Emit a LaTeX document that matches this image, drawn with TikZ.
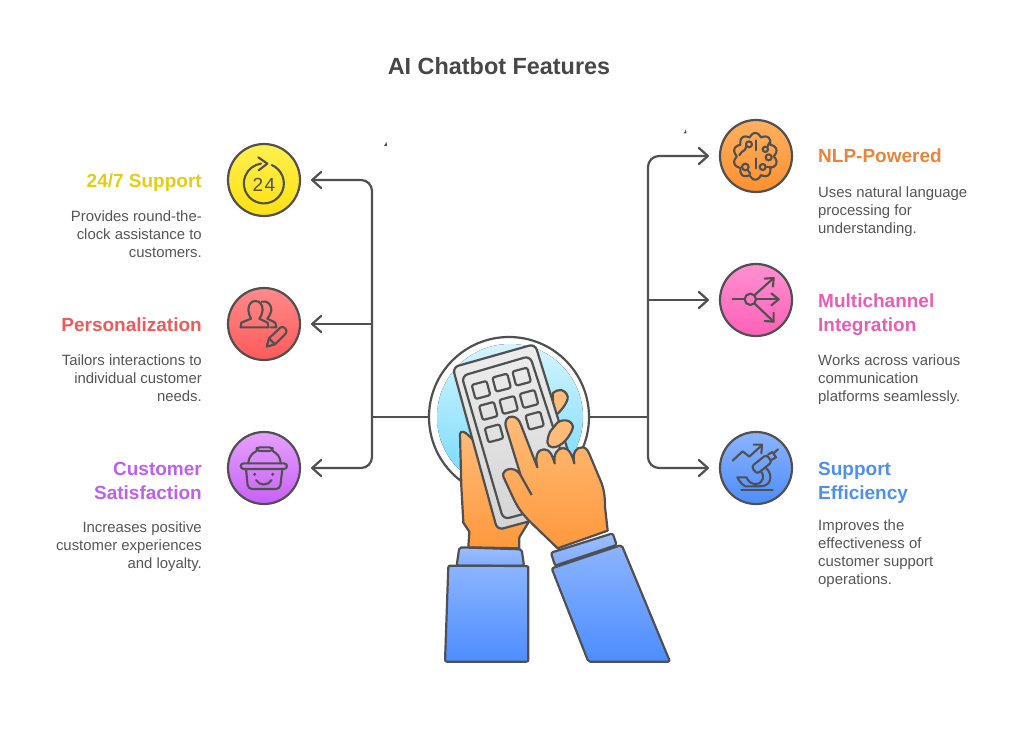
\documentclass[tikz,border=0pt]{standalone}
\usepackage{fontspec}
\setmainfont{Liberation Sans}
\usetikzlibrary{arrows.meta}

\definecolor{ink}{HTML}{505050}
\definecolor{txt}{HTML}{555555}
\definecolor{handtop}{HTML}{FFBC78}
\definecolor{handbot}{HTML}{FF983C}
\definecolor{cufftop}{HTML}{9CBEFF}
\definecolor{cuffbot}{HTML}{80ACFF}
\definecolor{sleevetop}{HTML}{8CB4FF}
\definecolor{sleevebot}{HTML}{4C8DFF}
\definecolor{HubTop}{HTML}{D4F5FF}
\definecolor{HubBot}{HTML}{70D8FF}
\definecolor{YelTop}{HTML}{FFF050}
\definecolor{YelBot}{HTML}{FFE010}
\definecolor{RedTop}{HTML}{FF8A8A}
\definecolor{RedBot}{HTML}{FF5A5A}
\definecolor{PurTop}{HTML}{E6A0FF}
\definecolor{PurBot}{HTML}{C860F8}
\definecolor{OraTop}{HTML}{FFB060}
\definecolor{OraBot}{HTML}{FF9030}
\definecolor{PinTop}{HTML}{FF90D0}
\definecolor{PinBot}{HTML}{FF60B8}
\definecolor{YelTxt}{HTML}{E3CE12}
\definecolor{RedTxt}{HTML}{EF5A5A}
\definecolor{PurTxt}{HTML}{BF5FEF}
\definecolor{OraTxt}{HTML}{E8853A}
\definecolor{PinTxt}{HTML}{E85DB5}
\definecolor{BluTxt}{HTML}{4F8FEF}

\tikzset{
	ball/.style={circle,draw=ink,line width=2.2pt,minimum size=72pt,inner sep=0pt,outer sep=0pt},
	link/.style={draw=ink,line width=2.2pt,rounded corners=11pt,shorten >=11pt,-{Straight Barb[length=9pt,width=16pt,round]}},
	stem/.style={draw=ink,line width=2.2pt},
	icon/.style={draw=ink,line width=2.1pt,line cap=round,line join=round},
	hand/.style={draw=ink,line width=2.2pt,line join=round},
	head/.style={font=\fontsize{19}{24}\selectfont\bfseries,inner sep=0pt},
	headl/.style={head,anchor=east,align=right},
	headr/.style={head,anchor=west,align=left},
	desc/.style={font=\fontsize{14.9}{18}\selectfont,text=txt,inner sep=0pt},
	descl/.style={desc,anchor=east,align=right},
	descr/.style={desc,anchor=west,align=left},
}

\begin{document}
\begin{tikzpicture}[x=1pt,y=-1pt]
	
	\useasboundingbox (0,0) rectangle (1020,730);
	
	\node[font=\fontsize{23.4}{28}\selectfont\bfseries,text=black!72,inner sep=0pt] (title) at (499,66) {AI Chatbot Features};
	
	% tiny marks
	\fill[ink] (384,146) -- (386.5,142) -- (387,146) -- cycle;
	\fill[ink] (683.5,133.5) -- (686,129.5) -- (686.5,133.5) -- cycle;
	
	% Hub
	\fill[top color=HubTop,bottom color=HubBot] (510,417) circle (73);
	\node[circle,draw=ink,line width=2.2pt,minimum size=160pt,inner sep=0pt,outer sep=0pt] (hub) at (509,417) {};
	
	% Balls
	\node[ball,top color=YelTop,bottom color=YelBot] (sup) at (264,180) {};
	\node[ball,top color=RedTop,bottom color=RedBot] (pers) at (264,324) {};
	\node[ball,top color=PurTop,bottom color=PurBot] (sat) at (264,468) {};
	\node[ball,top color=OraTop,bottom color=OraBot] (nlp) at (756,156) {};
	\node[ball,top color=PinTop,bottom color=PinBot] (multi) at (756,300) {};
	\node[ball,top color=sleevetop,bottom color=sleevebot] (eff) at (756,468) {};
	
	% Connectors
	\coordinate (trunkl) at (372,417);
	\coordinate (trunkr) at (648,417);
	\draw[stem] (hub.west) -- (trunkl);
	\draw[stem] (hub.east) -- (trunkr);
	\draw[link] (trunkl) |- (sup.east);
	\draw[link] (pers -| trunkl) -- (pers.east);
	\draw[link] (trunkl) |- (sat.east);
	\draw[link] (trunkr) |- (nlp.west);
	\draw[link] (multi -| trunkr) -- (multi.west);
	\draw[link] (trunkr) |- (eff.west);
	
	% Left texts
	\node[headl,text=YelTxt] (suphead) at (202,183) {24/7 Support};
	\node[descl] (supdesc) at (202,234) {Provides round-the-\\clock assistance to\\customers.};
	\node[headl,text=RedTxt] (pershead) at (202,325) {Personalization};
	\node[descl] (persdesc) at (202,378) {Tailors interactions to\\individual customer\\needs.};
	\node[headl,text=PurTxt] (sathead) at (202,481) {Customer\\Satisfaction};
	\node[descl] (satdesc) at (202,547) {Increases positive\\customer experiences\\and loyalty.};
	
	% Right texts
	\node[headr,text=OraTxt] (nlphead) at (818,156) {NLP-Powered};
	\node[descr] (nlpdesc) at (818,212) {Uses natural language\\processing for\\understanding.};
	\node[headr,text=PinTxt] (multihead) at (818,315) {Multichannel\\Integration};
	\node[descr] (multidesc) at (818,380) {Works across various\\communication\\platforms seamlessly.};
	\node[headr,text=BluTxt] (effhead) at (818,483) {Support\\Efficiency};
	\node[descr] (effdesc) at (818,554) {Improves the\\effectiveness of\\customer support\\operations.};
	
	% Icon 24
	\begin{scope}[shift={(220,135)},scale=1/3]
		\draw[icon] (155,90) arc[start angle=-67,end angle=262,radius=60];
		\draw[icon] (115,67) -- (142,86) -- (116,106);
		\node[text=ink,font=\fontsize{19}{20}\selectfont,inner sep=0pt] (twofour) at (132,149) {2\kern1.5pt 4};
	\end{scope}
	
	% Icon persons
	\begin{scope}[shift={(220,280)},scale=1/3]
		\draw[icon] (85,90) .. controls (85,72) and (95,63) .. (106,63) .. controls (118,63) and (128,72) .. (128,90) .. controls (128,100) and (122,110) .. (118,116) -- (143,128) -- (145,142) -- (62,142) -- (64,128) -- (93,116) .. controls (90,110) and (85,100) .. (85,90);
		\draw[icon] (125,65) .. controls (142,60) and (156,75) .. (154,92) .. controls (153,100) and (147,110) .. (142,116) -- (166,128) -- (169,142) -- (152,142);
		\draw[icon] (140,200) -- (147,175) -- (182,142) .. controls (190,136) and (205,150) .. (198,160) -- (165,193) -- cycle;
		\draw[icon] (147,175) -- (165,193);
	\end{scope}
	
	% Icon basket
	\begin{scope}[shift={(220,425)},scale=1/3]
		\draw[icon,rounded corners=3pt] (110,78) -- (110,67) -- (158,67) -- (158,78) -- cycle;
		\draw[icon] (85,115) .. controls (85,98) and (95,85) .. (110,78);
		\draw[icon] (182,115) .. controls (182,98) and (172,85) .. (158,78);
		\draw[icon,rounded corners=3pt] (62,115) rectangle (201,132);
		\draw[icon,rounded corners=4pt] (78,132) -- (84,192) -- (180,192) -- (187,132);
		\fill[ink] (104,148) circle (5);
		\fill[ink] (158,148) circle (5);
		\draw[icon] (108,165) .. controls (118,183) and (145,183) .. (155,165);
	\end{scope}
	
	% Icon brain
	\begin{scope}[shift={(712,112)},scale=1/3]
		\draw[icon] plot[domain=0:360,samples=180] ({130+(55+11*abs(sin(5*\x)))*cos(\x)},{133+(59+11*abs(sin(5*\x)))*sin(\x)}) -- cycle;
		\draw[icon,dashed,dash pattern=on 10 off 8] (132,85) -- (132,185);
		\draw[icon] (111,97) circle (9);
		\draw[icon] (103,102) .. controls (100,122) and (90,112) .. (82,130);
		\draw[icon] (160,112) circle (8);
		\draw[icon] (166,105) -- (172,92);
		\draw[icon] (170,136) circle (9);
		\draw[icon] (100,165) circle (10);
		\draw[icon] (106,173) -- (115,185);
		\draw[icon] (152,165) circle (9);
		\draw[icon] (161,165) -- (185,165);
	\end{scope}
	
	% Icon arrows
	\begin{scope}[shift={(712,256)},scale=1/3]
		\draw[icon] (115,130) circle (17);
		\draw[icon] (62,130) -- (98,130);
		\draw[icon] (132,130) -- (200,130);
		\draw[icon] (178,112) -- (200,130) -- (178,148);
		\draw[icon] (127,118) -- (185,66);
		\draw[icon] (158,68) -- (185,66) -- (183,92);
		\draw[icon] (127,142) -- (185,197);
		\draw[icon] (185,170) -- (185,197) -- (158,195);
	\end{scope}
	
	% Icon microscope
	\begin{scope}[shift={(712,424)},scale=1/3]
		\draw[icon] (62,110) -- (92,82) -- (112,98) -- (148,65);
		\draw[icon] (125,62) -- (150,62) -- (148,88);
		\draw[icon,rounded corners=3pt] (118,128) -- (163,92) -- (180,114) -- (135,150) -- cycle;
		\draw[icon] (168,92) -- (181,84) -- (192,100) -- (178,108);
		\draw[icon] (187,86) -- (198,76);
		\draw[icon] (160,130) .. controls (185,150) and (180,190) .. (140,187) -- (100,187) .. controls (90,182) and (82,172) .. (76,160) -- (103,160) .. controls (110,175) and (122,182) .. (135,180) .. controls (155,175) and (158,155) .. (147,142);
		\draw[icon] (88,199) -- (182,199);
	\end{scope}
	
	% Hands, phone
	\begin{scope}[shift={(420,330)},scale=1/3]
		% left hand
		\draw[hand,top color=handtop,bottom color=handbot] (120,312) .. controls (122,300) and (135,305) .. (145,316) .. controls (165,335) and (180,350) .. (190,375) -- (260,560) -- (325,578) -- (298,622) -- (298,655) -- (145,652) -- (148,605) -- (130,578) -- (124,470) -- cycle;
		\draw[hand,fill=handtop] (398,190) .. controls (415,175) and (435,175) .. (443,200) .. controls (445,215) and (425,240) .. (412,252) -- (400,240) -- cycle;
		% phone
		\draw[hand,top color=black!7,bottom color=black!17,rounded corners=6pt] (98,112) -- (345,42) -- (495,528) -- (232,600) -- cycle;
		\draw[hand,rounded corners=6pt] (125,138) -- (330,78) -- (470,510) -- (250,568) -- cycle;
		\foreach \cx/\cy in {183/180,245/158,305/140,205/243,266/225,327/207,222/310,344/272}
			\draw[hand,rounded corners=2pt,shift={(\cx,\cy)},rotate=15] (-23,-22) rectangle (23,22);
		\draw[hand,fill=handtop] (412,278) .. controls (435,262) and (462,275) .. (458,295) .. controls (450,320) and (425,352) .. (398,352) .. controls (380,350) and (378,335) .. (390,305) -- cycle;
		% right hand
		\draw[hand,top color=handtop,bottom color=handbot] (278,260) .. controls (292,262) and (298,272) .. (303,285) -- (352,412)
			.. controls (344,380) and (352,358) .. (372,358)
			.. controls (392,358) and (398,380) .. (404,400)
			.. controls (400,375) and (410,354) .. (430,354)
			.. controls (448,354) and (458,380) .. (463,400)
			.. controls (456,370) and (468,350) .. (488,352)
			.. controls (498,352) and (503,362) .. (508,372)
			-- (545,460) .. controls (552,480) and (555,500) .. (555,530)
			-- (563,602) -- (413,655) -- (330,575)
			.. controls (300,545) and (290,525) .. (280,505)
			-- (250,440) .. controls (245,425) and (262,415) .. (275,417)
			.. controls (288,418) and (298,428) .. (302,436)
			-- (258,292) .. controls (252,272) and (262,258) .. (278,260) -- cycle;
		\draw[hand] (302,436) -- (335,495);
		% sleeves
		\draw[hand,top color=cufftop,bottom color=cuffbot,rounded corners=2pt] (118,652) -- (305,658) -- (312,707) -- (110,707) -- cycle;
		\draw[hand,top color=sleevetop,bottom color=sleevebot,rounded corners=2pt] (85,707) -- (325,708) -- (325,995) -- (75,995) -- cycle;
		\draw[hand,top color=cufftop,bottom color=cuffbot,rounded corners=2pt] (393,668) -- (578,610) -- (590,645) -- (405,707) -- cycle;
		\draw[hand,top color=sleevetop,bottom color=sleevebot,rounded corners=2pt] (395,715) -- (605,645) -- (750,995) -- (505,995) -- cycle;
	\end{scope}
	
\end{tikzpicture}
\end{document}
